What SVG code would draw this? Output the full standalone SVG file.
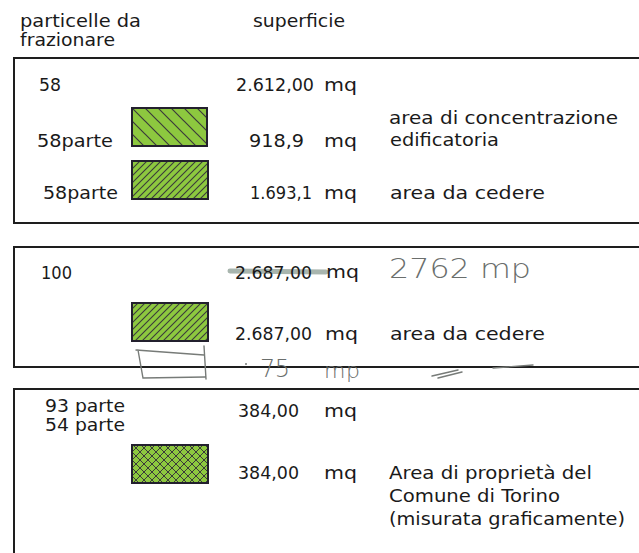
<svg xmlns="http://www.w3.org/2000/svg" width="639" height="553" viewBox="0 0 639 553">
<style>
.t{font-family:"DejaVu Sans","Liberation Sans",sans-serif;font-size:17px;fill:#1a1a1a}
.box{fill:none;stroke:#1e1e1e;stroke-width:2}
.sw{stroke:#23202e;stroke-width:2}
.hand{font-family:"DejaVu Sans","Liberation Sans",sans-serif;font-weight:300;fill:#6a6e6c}
.scr{fill:none;stroke:#777b78;stroke-width:1.4;stroke-linecap:round}
</style>
<defs>
<pattern id="pBack" patternUnits="userSpaceOnUse" x="132" y="108" width="13" height="13">
<rect width="13" height="13" fill="#8dc83f"/>
<path d="M0,0 L13,13 M-2,11 L2,15 M11,-2 L15,2" stroke="#3a3a3a" stroke-width="1.2"/>
</pattern>
<pattern id="pFwd" patternUnits="userSpaceOnUse" width="7" height="7">
<rect width="7" height="7" fill="#8dc83f"/>
<path d="M0,7 L7,0 M-2,2 L2,-2 M5,9 L9,5" stroke="#3a3a3a" stroke-width="1.1"/>
</pattern>
<pattern id="pCross" patternUnits="userSpaceOnUse" width="8" height="8">
<rect width="8" height="8" fill="#8dc83f"/>
<path d="M0,8 L8,0 M-2,2 L2,-2 M6,10 L10,6 M0,0 L8,8 M-2,6 L2,10 M6,-2 L10,2" stroke="#3a3a3a" stroke-width="1"/>
</pattern>
</defs>
<rect width="639" height="553" fill="#ffffff"/>

<g id="header">
<text class="t" x="20" y="27" textLength="121" lengthAdjust="spacingAndGlyphs">particelle da</text>
<text class="t" x="20" y="46" textLength="95" lengthAdjust="spacingAndGlyphs">frazionare</text>
<text class="t" x="253" y="27" textLength="92" lengthAdjust="spacingAndGlyphs">superficie</text>
</g>

<g id="box-58">
<rect class="box" x="14" y="58" width="660" height="165"/>
<text class="t" x="39" y="91" textLength="22" lengthAdjust="spacingAndGlyphs">58</text>
<text class="t" x="236" y="91" textLength="78" lengthAdjust="spacingAndGlyphs">2.612,00</text>
<text class="t" x="324" y="91" textLength="33" lengthAdjust="spacingAndGlyphs">mq</text>
<rect class="sw" x="132" y="108" width="75" height="38" fill="url(#pBack)"/>
<text class="t" x="37" y="147" textLength="76" lengthAdjust="spacingAndGlyphs">58parte</text>
<text class="t" x="249" y="147" textLength="55" lengthAdjust="spacingAndGlyphs">918,9</text>
<text class="t" x="324" y="147" textLength="33" lengthAdjust="spacingAndGlyphs">mq</text>
<text class="t" x="389" y="124" textLength="229" lengthAdjust="spacingAndGlyphs">area di concentrazione</text>
<text class="t" x="390" y="146" textLength="109" lengthAdjust="spacingAndGlyphs">edificatoria</text>
<rect class="sw" x="132" y="161" width="76" height="38" fill="url(#pFwd)"/>
<text class="t" x="43" y="199" textLength="75" lengthAdjust="spacingAndGlyphs">58parte</text>
<text class="t" x="250" y="199" textLength="62" lengthAdjust="spacingAndGlyphs">1.693,1</text>
<text class="t" x="324" y="199" textLength="33" lengthAdjust="spacingAndGlyphs">mq</text>
<text class="t" x="390" y="199" textLength="155" lengthAdjust="spacingAndGlyphs">area da cedere</text>
</g>

<g id="box-100">
<rect class="box" x="14" y="247" width="660" height="120"/>
<text class="t" x="41" y="279" textLength="31" lengthAdjust="spacingAndGlyphs">100</text>
<line x1="230" y1="271" x2="326" y2="272" stroke="#93a39a" stroke-width="5" stroke-linecap="round" opacity="0.8"/>
<text class="t" x="235" y="279" textLength="77" lengthAdjust="spacingAndGlyphs">2.687,00</text>
<text class="t" x="326" y="278" textLength="33" lengthAdjust="spacingAndGlyphs">mq</text>
<text class="hand" x="389" y="278" font-size="27" textLength="142" lengthAdjust="spacingAndGlyphs">2762 mp</text>
<rect class="sw" x="132" y="303" width="76" height="38" fill="url(#pFwd)"/>
<text class="t" x="235" y="340" textLength="77" lengthAdjust="spacingAndGlyphs">2.687,00</text>
<text class="t" x="325" y="340" textLength="33" lengthAdjust="spacingAndGlyphs">mq</text>
<text class="t" x="390" y="340" textLength="155" lengthAdjust="spacingAndGlyphs">area da cedere</text>
<path class="scr" d="M136,350 L204,355 M138,350 L143,378 L205,377 M204,346 L206,379"/>
<circle cx="246" cy="364" r="1" fill="#777b78"/>
<text class="hand" x="260" y="377" font-size="24" textLength="30">75</text>
<text class="hand" x="324" y="378" font-size="22" textLength="36">mp</text>
<path class="scr" d="M432,376 L458,370 M438,378 L462,372 M493,368 L533,365"/>
</g>

<g id="box-93-54">
<rect class="box" x="14" y="389" width="660" height="200"/>
<text class="t" x="45" y="412" font-size="16" textLength="80" lengthAdjust="spacingAndGlyphs">93 parte</text>
<text class="t" x="45" y="431" font-size="16" textLength="80" lengthAdjust="spacingAndGlyphs">54 parte</text>
<text class="t" x="238" y="417" textLength="61" lengthAdjust="spacingAndGlyphs">384,00</text>
<text class="t" x="324" y="417" textLength="33" lengthAdjust="spacingAndGlyphs">mq</text>
<rect class="sw" x="132" y="445" width="76" height="38" fill="url(#pCross)"/>
<text class="t" x="238" y="479" textLength="61" lengthAdjust="spacingAndGlyphs">384,00</text>
<text class="t" x="324" y="479" textLength="33" lengthAdjust="spacingAndGlyphs">mq</text>
<text class="t" x="389" y="479" textLength="203" lengthAdjust="spacingAndGlyphs">Area di proprietà del</text>
<text class="t" x="389" y="502" textLength="171" lengthAdjust="spacingAndGlyphs">Comune di Torino</text>
<text class="t" x="389" y="525" textLength="236" lengthAdjust="spacingAndGlyphs">(misurata graficamente)</text>
</g>
</svg>
